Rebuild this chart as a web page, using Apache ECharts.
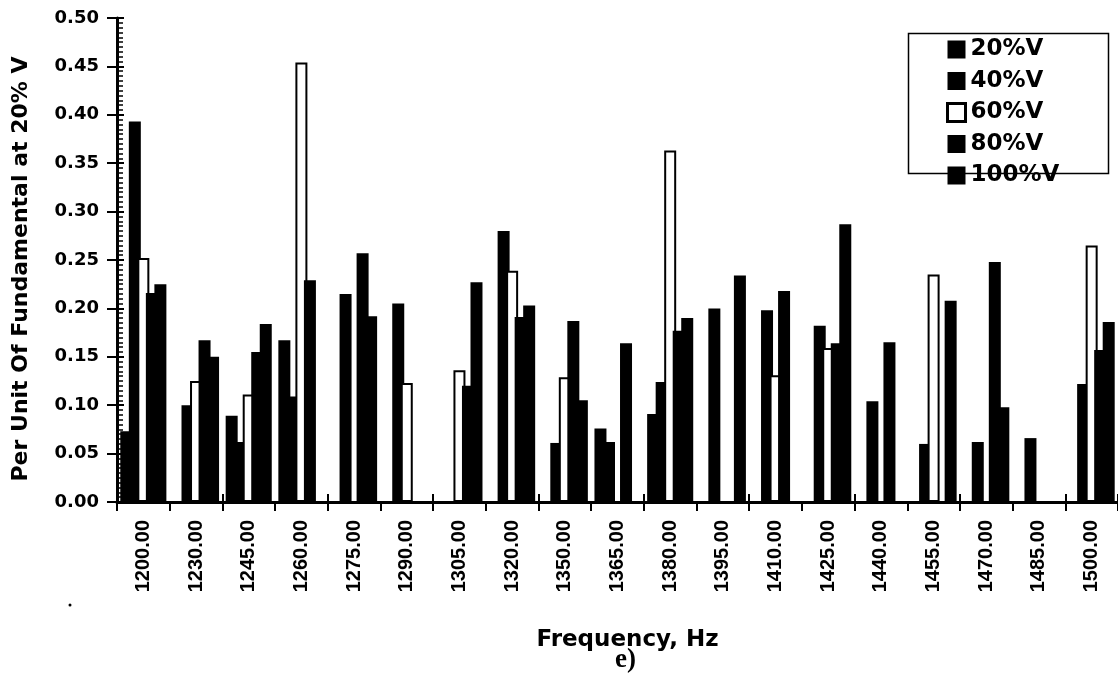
<!DOCTYPE html>
<html>
<head>
<meta charset="utf-8">
<script src="https://cdn.jsdelivr.net/npm/echarts@6/dist/echarts.min.js"></script>
<style>
  html, body { margin: 0; padding: 0; background: #fff; }
  #chart { width: 1118px; height: 689px; }
</style>
</head>
<body>
<div id="chart"></div>
<script>
// Harmonic spectrum between 1200 and 1500 Hz, per unit of the fundamental at 20% V
const frequencies = [1200, 1230, 1245, 1260, 1275, 1290, 1305, 1320, 1350, 1365,
                     1380, 1395, 1410, 1425, 1440, 1455, 1470, 1485, 1500];

const seriesNames = ['20%V', '40%V', '60%V', '80%V', '100%V'];

const v20  = [0.073, 0,     0.089, 0.167, 0,     0,     0,     0,     0,     0.076,
              0.091, 0,     0,     0,     0,     0,     0,     0,     0];
const v40  = [0.393, 0.100, 0.062, 0.109, 0.215, 0.205, 0,     0.280, 0.061, 0.062,
              0.124, 0.200, 0.198, 0.182, 0.104, 0.060, 0.062, 0.066, 0.122];
const v60  = [0.252, 0.125, 0.111, 0.454, 0,     0.123, 0.136, 0.239, 0.129, 0,
              0.363, 0,     0.131, 0.159, 0,     0.235, 0,     0,     0.265];
const v80  = [0.216, 0.167, 0.155, 0.229, 0.257, 0,     0.120, 0.191, 0.187, 0.164,
              0.177, 0,     0.218, 0.164, 0.165, 0,     0.248, 0,     0.157];
const v100 = [0.225, 0.150, 0.184, 0,     0.192, 0,     0.227, 0.203, 0.105, 0,
              0.190, 0.234, 0,     0.287, 0,     0.208, 0.098, 0,     0.186];

const seriesValues = [v20, v40, v60, v80, v100];

const yMin = 0, yMax = 0.5, yStep = 0.05;

const categoryLabels = frequencies.map(f => f.toFixed(2));

const chart = echarts.init(document.getElementById('chart'), null, { renderer: 'canvas' });

const boldSans = 'DejaVu Sans';

function barSeries(name, data, hollow) {
  return {
    name: name,
    type: 'bar',
    data: data,
    barWidth: 12,
    barGap: '-29%',
    barCategoryGap: '13%',
    itemStyle: hollow
      ? { color: '#fff', borderColor: '#000', borderWidth: 2 }
      : { color: '#000' },
    emphasis: { disabled: true }
  };
}

const option = {
  animation: false,
  backgroundColor: '#fff',
  grid: { left: 117, top: 18, width: 1007, height: 484, containLabel: false },
  legend: {
    orient: 'vertical',
    left: 946,
    top: 38,
    padding: 0,
    itemWidth: 18,
    itemHeight: 18,
    itemGap: 8.5,
    icon: 'rect',
    selectedMode: false,
    textStyle: {
      fontFamily: boldSans, fontWeight: 'bold', fontSize: 23,
      lineHeight: 18, color: '#000'
    },
    data: seriesNames.map((n, i) => i === 2
      ? { name: n, itemStyle: { color: '#fff', borderColor: '#000', borderWidth: 3 } }
      : { name: n, itemStyle: { color: '#000' } })
  },
  xAxis: [
    {
      type: 'category',
      data: categoryLabels,
      position: 'bottom',
      boundaryGap: true,
      axisLine: { show: true, lineStyle: { color: '#000', width: 3 } },
      axisTick: { show: true, inside: false, length: 9, lineStyle: { color: '#000', width: 2 } },
      axisLabel: {
        interval: 0, rotate: 90, margin: 18,
        fontFamily: 'Liberation Sans', fontWeight: 'bold', fontSize: 20, color: '#000'
      },
      splitLine: { show: false },
      name: 'Frequency, Hz',
      nameLocation: 'middle',
      nameGap: 127,
      nameTextStyle: {
        fontFamily: boldSans, fontWeight: 'bold', fontSize: 23, color: '#000',
        padding: [0, 0, 0, 20]
      }
    },
    {
      type: 'category',
      data: categoryLabels,
      position: 'bottom',
      offset: 0,
      boundaryGap: true,
      axisLine: { show: false },
      axisTick: { show: true, inside: true, length: 8, lineStyle: { color: '#000', width: 2 } },
      axisLabel: { show: false },
      splitLine: { show: false }
    }
  ],
  yAxis: [
    {
      type: 'value',
      min: yMin, max: yMax, interval: yStep,
      position: 'left',
      axisLine: { show: true, lineStyle: { color: '#000', width: 3 } },
      axisTick: { show: true, inside: false, length: 10, lineStyle: { color: '#000', width: 2 } },
      axisLabel: {
        margin: 18,
        formatter: v => v.toFixed(2),
        fontFamily: boldSans, fontWeight: 'bold', fontSize: 18, color: '#000'
      },
      splitLine: { show: false },
      name: 'Per Unit Of Fundamental at 20% V',
      nameLocation: 'middle',
      nameRotate: 90,
      nameGap: 85,
      nameTextStyle: {
        fontFamily: boldSans, fontWeight: 'bold', fontSize: 22, color: '#000',
        padding: [0, 18, 0, 0]
      }
    },
    {
      type: 'value',
      min: yMin, max: yMax, interval: yStep,
      position: 'left',
      offset: 0,
      axisLine: { show: false },
      axisTick: { show: true, inside: true, length: 7, lineStyle: { color: '#000', width: 2 } },
      minorTick: { show: true, splitNumber: 10, length: 6, lineStyle: { color: '#000', width: 1.5 } },
      axisLabel: { show: false },
      splitLine: { show: false }
    }
  ],
  graphic: [
    {
      type: 'rect',
      left: 906, top: 31,
      shape: { width: 200, height: 140 },
      style: { fill: 'none', stroke: '#000', lineWidth: 1.5 },
      silent: true
    },
    {
      type: 'text',
      left: 615, top: 647,
      style: {
        text: 'e)',
        font: 'bold 27px "Liberation Serif"',
        fill: '#000'
      },
      silent: true
    },
    {
      type: 'circle',
      shape: { cx: 70, cy: 605, r: 1.5 },
      style: { fill: '#000' },
      silent: true
    }
  ],
  series: seriesNames.map((n, i) => barSeries(n, seriesValues[i], i === 2))
};

chart.setOption(option);
</script>
</body>
</html>
